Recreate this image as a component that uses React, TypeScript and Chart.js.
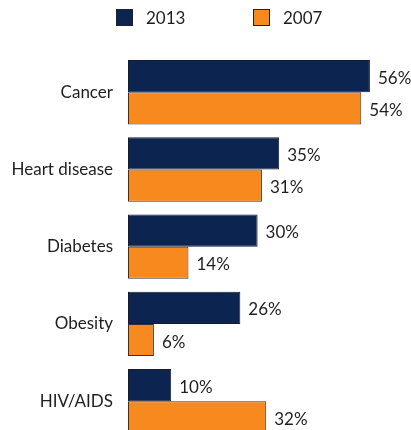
import React, { useEffect, useRef } from "react";
import { Chart, registerables } from "chart.js";

Chart.register(...registerables);

const categories = ["Cancer", "Heart disease", "Diabetes", "Obesity", "HIV/AIDS"];
const values2013 = [56, 35, 30, 26, 10];
const values2007 = [54, 31, 14, 6, 32];
const seriesLabels = ["2013", "2007"];

const NAVY = "#0b2550";
const ORANGE = "#f7891f";
const TEXT = "#1e1e1e";
const FONT_FAMILY = "Lato, 'Noto Sans', sans-serif";
const FONT_SIZE = 17;

const valueLabelPlugin = {
  id: "valueLabels",
  afterDatasetsDraw(chart: any) {
    const ctx = chart.ctx;
    ctx.save();
    ctx.font = `${FONT_SIZE}px ${FONT_FAMILY}`;
    ctx.fillStyle = TEXT;
    ctx.textAlign = "left";
    ctx.textBaseline = "middle";
    chart.data.datasets.forEach((ds: any, i: number) => {
      const meta = chart.getDatasetMeta(i);
      meta.data.forEach((el: any, j: number) => {
        ctx.fillText(`${ds.data[j]}%`, el.x + 8, el.y + 2);
      });
    });
    ctx.restore();
  },
};

const customLegendPlugin = {
  id: "customLegend",
  afterDraw(chart: any) {
    const ctx = chart.ctx;
    const boxXs = [116, 253];
    ctx.save();
    ctx.font = `${FONT_SIZE}px ${FONT_FAMILY}`;
    ctx.textBaseline = "middle";
    ctx.textAlign = "left";
    chart.data.datasets.forEach((ds: any, i: number) => {
      const x = boxXs[i];
      const y = 9;
      ctx.fillStyle = ds.backgroundColor;
      ctx.fillRect(x, y, 17, 17);
      ctx.strokeStyle = "#222";
      ctx.lineWidth = 1;
      ctx.strokeRect(x + 0.5, y + 0.5, 16, 16);
      ctx.fillStyle = TEXT;
      ctx.fillText(ds.label, x + 30, y + 10);
    });
    ctx.restore();
  },
};

export default function App() {
  const ref = useRef<HTMLCanvasElement>(null);
  useEffect(() => {
    if (!ref.current) return;
    const chart = new Chart(ref.current, {
      type: "bar",
      data: {
        labels: categories,
        datasets: [
          {
            label: seriesLabels[0],
            data: values2013,
            backgroundColor: NAVY,
            borderColor: "#1a1a2a",
            borderWidth: 1,
            borderSkipped: false,
          },
          {
            label: seriesLabels[1],
            data: values2007,
            backgroundColor: ORANGE,
            borderColor: "#3a3030",
            borderWidth: 1,
            borderSkipped: false,
          },
        ],
      },
      plugins: [valueLabelPlugin, customLegendPlugin],
      options: {
        indexAxis: "y",
        animation: false,
        responsive: true,
        maintainAspectRatio: false,
        devicePixelRatio: 1,
        layout: { padding: { top: 53.6, bottom: 7.6, left: 0, right: 23.8 } },
        datasets: { bar: { categoryPercentage: 0.833, barPercentage: 1 } },
        plugins: {
          legend: { display: false },
          tooltip: { enabled: false },
        },
        scales: {
          x: { display: false, min: 0, max: 60 },
          y: {
            grid: { display: false, drawTicks: false },
            border: { display: false },
            ticks: {
              padding: 15,
              color: TEXT,
              font: { family: FONT_FAMILY, size: FONT_SIZE },
            },
            afterFit(scale: any) {
              scale.width = 128;
            },
          },
        },
      },
    } as any);
    return () => chart.destroy();
  }, []);
  return (
    <div style={{ position: "fixed", left: 0, top: 0, width: 411, height: 465, background: "#fff" }}>
      <canvas ref={ref} style={{ display: "block" }} />
    </div>
  );
}
